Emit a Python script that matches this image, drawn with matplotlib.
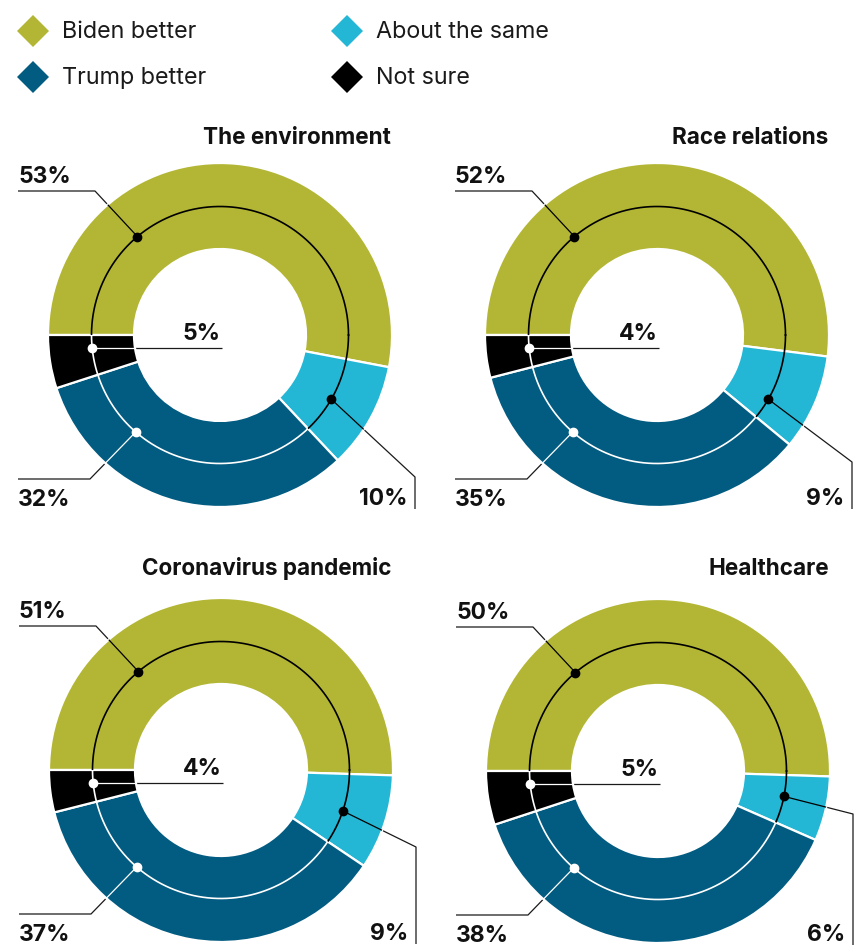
import numpy as np
import matplotlib
matplotlib.use("Agg")
import matplotlib.pyplot as plt
from matplotlib.patches import RegularPolygon

W, H = 868, 949

topics = ["The environment", "Race relations", "Coronavirus pandemic", "Healthcare"]
answers = ["Biden better", "About the same", "Trump better", "Not sure"]
biden = [53, 52, 51, 50]
same = [10, 9, 9, 6]
trump = [32, 35, 37, 38]
unsure = [5, 4, 4, 5]

COLORS = ["#b3b634", "#23b7d5", "#025b80", "#000000"]
# colour of the guide ring / leaders where they cross each wedge
LINE_ON = ["black", "black", "white", "white"]
INK = "#1a1a1a"

plt.rcParams["font.family"] = ["Inter", "DejaVu Sans"]

# donut centres in screen pixels (y measured down from the top)
centres = [(220, 335), (657, 335), (221, 770), (658, 771)]
title_rows = [138, 138, 569, 569]
R = 172
RMID = 128.5

# dot positions on the guide ring, degrees ccw from 3 o'clock
ang_biden = 130
ang_trump = -131
ang_unsure = -174
ang_same = [-30, -30, -18.6, -11.4]
elbow_same = [142, 127, 77, 43]

fig = plt.figure(figsize=(W / 100, H / 100), dpi=100)
ax = fig.add_axes([0, 0, 1, 1])

theta = np.linspace(0, 2 * np.pi, 500)

for i, topic in enumerate(topics):
    cx, cy = centres[i]
    cy = H - cy
    vals = [biden[i], same[i], trump[i], unsure[i]]
    wedges, _ = ax.pie(vals, colors=COLORS, radius=R, center=(cx, cy),
                       startangle=180, counterclock=False,
                       wedgeprops=dict(width=R / 2, edgecolor="white", linewidth=1.6))

    def pol(a):
        a = np.radians(a)
        return cx + RMID * np.cos(a), cy + RMID * np.sin(a)

    p_b, p_s, p_t, p_u = pol(ang_biden), pol(ang_same[i]), pol(ang_trump), pol(ang_unsure)
    leaders = [
        ([p_b[0], cx - 125, cx - 202], [p_b[1], cy + 144, cy + 144]),
        ([p_s[0], cx + 195, cx + 195], [p_s[1], cy - elbow_same[i], cy - 174]),
        ([p_t[0], cx - 130, cx - 202], [p_t[1], cy - 144, cy - 144]),
        ([p_u[0], cx + 2], [p_u[1], p_u[1]]),
    ]
    ring = (cx + RMID * np.cos(theta), cy + RMID * np.sin(theta))

    for xs, ys in leaders:
        ax.plot(xs, ys, color=INK, lw=0.9, zorder=0.5, solid_capstyle="butt")
    # recolour the parts that run across the ring
    for w, lc in zip(wedges, LINE_ON):
        for xs, ys in leaders:
            ln, = ax.plot(xs, ys, color=lc, lw=0.9, zorder=3)
            ln.set_clip_path(w)
        ln, = ax.plot(*ring, color=lc, lw=1.2, zorder=3)
        ln.set_clip_path(w)

    for p, c in zip([p_b, p_s, p_t, p_u], LINE_ON):
        ax.plot(*p, "o", ms=6, color=c, mec=c, zorder=4)

    lab = dict(fontsize=16.5, fontweight="bold", color="#111111", va="baseline")
    ax.text(cx - 202, cy + 152, f"{biden[i]}%", ha="left", **lab)
    ax.text(cx - 202, cy - 171, f"{trump[i]}%", ha="left", **lab)
    ax.text(cx + 187, cy - 170, f"{same[i]}%", ha="right", **lab)
    ax.text(cx + 1, p_u[1] + 8, f"{unsure[i]}%", ha="right", **lab)

    ax.text(cx + 171, H - title_rows[i], topic, ha="right", va="center",
            fontsize=16.2, fontweight="bold", color="#111111")

# legend: two columns of diamonds
leg_pos = [(33, 31), (347, 31), (33, 77), (347, 77)]
for (x, y), name, c in zip(leg_pos, answers, COLORS):
    ax.add_patch(RegularPolygon((x, H - y), numVertices=4, radius=16,
                                orientation=0, color=c, lw=0))
    ax.text(x + 29, H - y - 1, name, ha="left", va="center", fontsize=16.8,
            color="#1a1a1a")

ax.set_xlim(0, W)
ax.set_ylim(0, H)
ax.set_aspect("equal")
ax.axis("off")

fig.savefig("out.png", dpi=100)
